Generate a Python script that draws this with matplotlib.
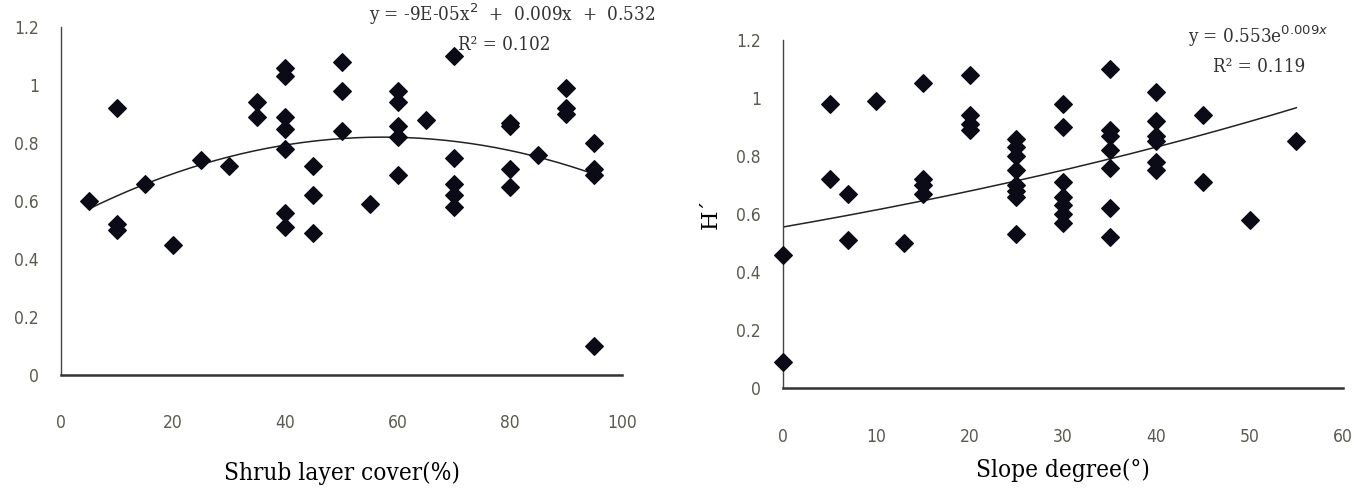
import matplotlib
matplotlib.use("Agg")
import matplotlib.pyplot as plt
import numpy as np

# shrub layer cover (%) vs H'
shrub_x = [5, 10, 10, 10, 15, 20, 25, 30, 35, 35,
           40, 40, 40, 40, 40, 40, 40, 45, 45, 45,
           50, 50, 50, 55, 60, 60, 60, 60, 60, 65,
           70, 70, 70, 70, 70, 80, 80, 80, 80, 85,
           90, 90, 90, 95, 95, 95, 95]
shrub_h = [0.60, 0.92, 0.52, 0.50, 0.66, 0.45, 0.74, 0.72, 0.94, 0.89,
           1.06, 1.03, 0.89, 0.85, 0.78, 0.56, 0.51, 0.72, 0.62, 0.49,
           1.08, 0.98, 0.84, 0.59, 0.98, 0.94, 0.86, 0.82, 0.69, 0.88,
           1.10, 0.75, 0.66, 0.62, 0.58, 0.87, 0.86, 0.71, 0.65, 0.76,
           0.99, 0.92, 0.90, 0.80, 0.71, 0.69, 0.10]

# slope degree vs H'
slope_x = [0, 0, 5, 5, 7, 7, 10, 13, 15, 15,
           15, 15, 20, 20, 20, 20, 25, 25, 25, 25,
           25, 25, 25, 25, 30, 30, 30, 30, 30, 30,
           30, 35, 35, 35, 35, 35, 35, 35, 40, 40,
           40, 40, 40, 40, 45, 45, 50, 55]
slope_h = [0.46, 0.09, 0.98, 0.72, 0.67, 0.51, 0.99, 0.50, 1.05, 0.72,
           0.70, 0.67, 1.08, 0.94, 0.91, 0.89, 0.86, 0.83, 0.80, 0.75,
           0.70, 0.68, 0.66, 0.53, 0.98, 0.90, 0.71, 0.66, 0.63, 0.60,
           0.57, 1.10, 0.89, 0.87, 0.82, 0.76, 0.62, 0.52, 1.02, 0.92,
           0.87, 0.85, 0.78, 0.75, 0.94, 0.71, 0.58, 0.85]

xticks_l = [0, 20, 40, 60, 80, 100]
xticks_r = [0, 10, 20, 30, 40, 50, 60]
yticks = [0, 0.2, 0.4, 0.6, 0.8, 1, 1.2]
ytick_labels = ["0", "0.2", "0.4", "0.6", "0.8", "1", "1.2"]

tick_color = "#5a5a50"
mark_color = "#0b0b18"
note_color = "#333333"

fig = plt.figure(figsize=(13.62, 4.96), dpi=100)
W, H = 1362, 496
ax1 = fig.add_axes([61 / W, (H - 375) / H, 561 / W, 348 / H])
ax2 = fig.add_axes([783 / W, (H - 388) / H, 560 / W, 348 / H])


def style(ax, xticks, xmax, xpad):
    ax.set_xlim(0, xmax)
    ax.set_ylim(0, 1.2)
    ax.set_xticks(xticks)
    ax.set_yticks(yticks)
    ax.set_yticklabels(ytick_labels)
    for s in ["top", "right"]:
        ax.spines[s].set_visible(False)
    ax.spines["left"].set_color("#444444")
    ax.spines["left"].set_linewidth(1.0)
    ax.spines["bottom"].set_color("#333333")
    ax.spines["bottom"].set_linewidth(1.8)
    ax.tick_params(length=0, labelsize=12.5, colors=tick_color)
    ax.tick_params(axis="x", pad=xpad)
    ax.tick_params(axis="y", pad=16)
    for lab in ax.get_xticklabels() + ax.get_yticklabels():
        lab.set_family("DejaVu Sans")
        lab.set_fontstretch("condensed")


def note(x, y, s, size=13.5):
    fig.text(x / W, 1 - y / H, s, ha="center", va="center", fontsize=size,
             color=note_color, family="DejaVu Serif", fontstretch="condensed")


# left panel
style(ax1, xticks_l, 100, 28)
ax1.scatter(shrub_x, shrub_h, marker="D", s=80, color=mark_color, zorder=3, clip_on=False)
c = np.polyfit(shrub_x, shrub_h, 2)
xx = np.linspace(min(shrub_x), max(shrub_x), 200)
ax1.plot(xx, np.polyval(c, xx), color="#222222", lw=1.1, zorder=2)
ax1.set_xlabel("Shrub layer cover(%)", family="DejaVu Serif", fontstretch="condensed",
               fontsize=17.5, labelpad=21)
note(512, 14, "y = -9E-05x$^2$  +  0.009x  +  0.532")
note(504, 45, "R² = 0.102")

# right panel
style(ax2, xticks_r, 60, 29)
ax2.scatter(slope_x, slope_h, marker="D", s=80, color=mark_color, zorder=3, clip_on=False)
k = np.polyfit(slope_x, np.log(slope_h), 1)
xx = np.linspace(0, max(slope_x), 200)
ax2.plot(xx, np.exp(k[1]) * np.exp(k[0] * xx), color="#222222", lw=1.1, zorder=2)
ax2.set_xlabel("Slope degree(°)", family="DejaVu Serif", fontstretch="condensed",
               fontsize=17.5, labelpad=9)
ax2.set_ylabel("H´", family="DejaVu Serif", fontsize=16, labelpad=10)
note(1258, 36, "y = 0.553e$^{0.009x}$")
note(1259, 67, "R² = 0.119")

fig.savefig("out.png", dpi=100)
